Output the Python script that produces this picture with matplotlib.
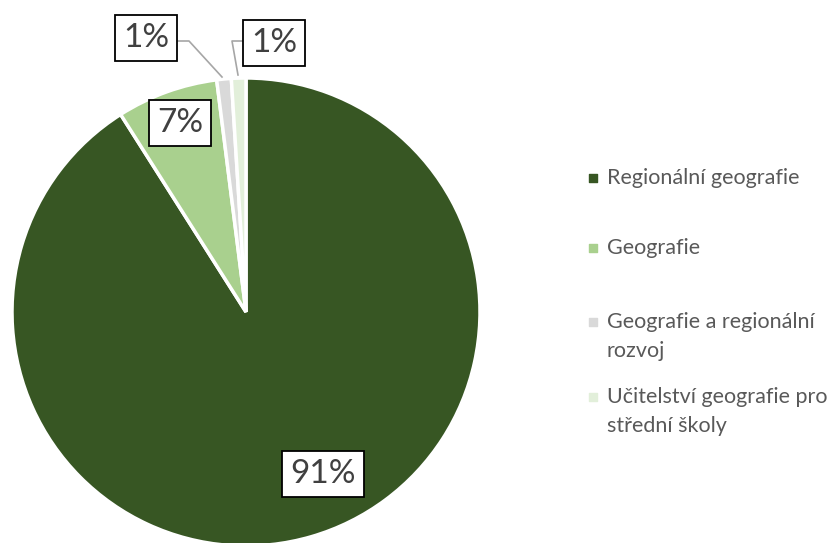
import matplotlib.pyplot as plt

labels = ["Regionální geografie", "Geografie", "Geografie a regionální\nrozvoj",
          "Učitelství geografie pro\nstřední školy"]
values = [91, 7, 1, 1]
pct_text = ["91%", "7%", "1%", "1%"]
colors = ["#375623", "#A9D08E", "#D9D9D9", "#E2EFDA"]

W, H = 835, 543


def main():
    plt.rcParams['font.family'] = ['Lato', 'DejaVu Sans']
    fig = plt.figure(figsize=(W / 100, H / 100), dpi=100)
    ax = fig.add_axes([0, 0, 1, 1])

    ax.pie(values, colors=colors, startangle=90, counterclock=False,
           center=(246, H - 312), radius=234,
           wedgeprops=dict(edgecolor='white', linewidth=2.5))
    # pie resets the limits, so set them afterwards
    ax.set_xlim(0, W)
    ax.set_ylim(0, H)
    ax.set_aspect('equal')
    ax.axis('off')

    # data label boxes (image coords)
    label_pos = [(323, 474), (180, 123), (146, 38), (274, 43)]
    box = dict(boxstyle='square,pad=0.25', facecolor='white', edgecolor='black', linewidth=1.3)
    for (x, y), t in zip(label_pos, pct_text):
        ax.text(x, H - y, t, ha='center', va='center', fontsize=24,
                color='#404040', bbox=box)

    # leader lines
    ax.plot([178, 189, 222], [H - 41, H - 41, H - 77], color='#A6A6A6', lw=1.2)
    ax.plot([243, 232, 238], [H - 41, H - 41, H - 75], color='#A6A6A6', lw=1.2)

    # legend
    leg_y = [178, 248, 322, 397]
    for y, lab, c in zip(leg_y, labels, colors):
        ax.scatter([593], [H - y], marker='s', s=40, color=c)
        for i, line in enumerate(lab.split('\n')):
            ax.text(607, H - y - i * 29, line, ha='left', va='center',
                    fontsize=15.5, color='#595959')

    fig.savefig("out.png", dpi=100)


if __name__ == "__main__":
    main()
